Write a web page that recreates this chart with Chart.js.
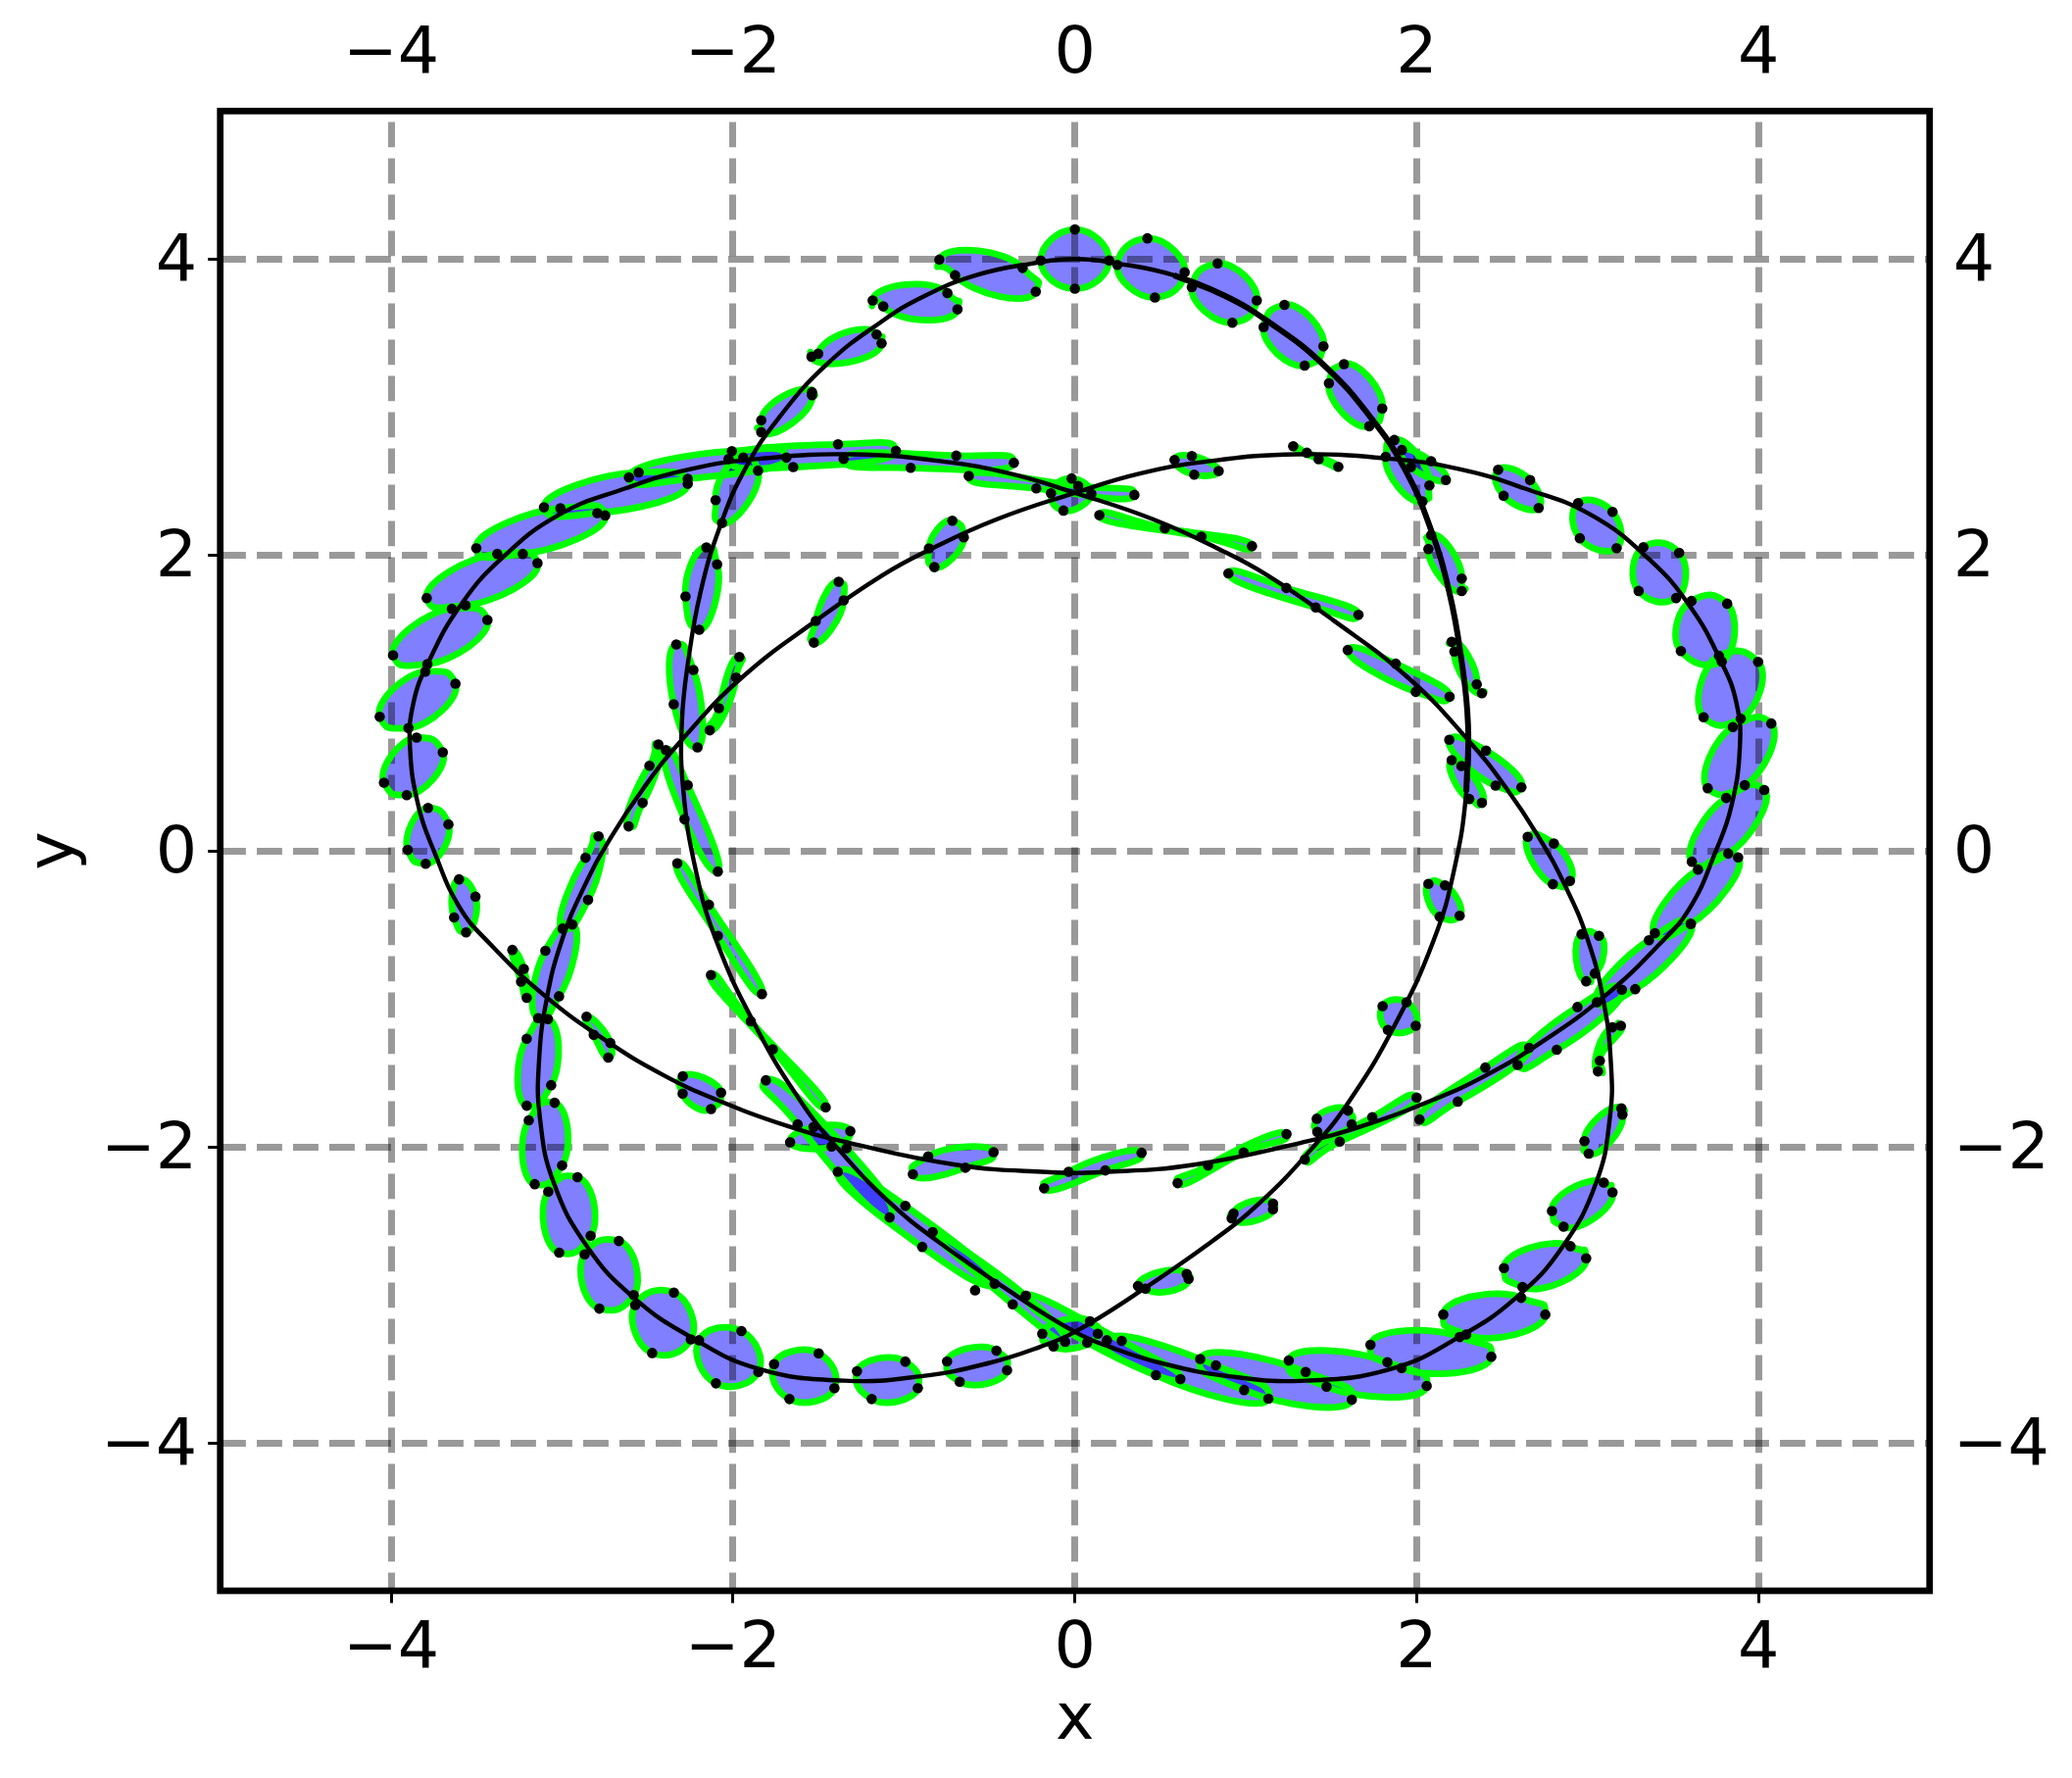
<!DOCTYPE html>
<html><head><meta charset="utf-8">
<style>html,body{margin:0;padding:0;background:#fff}canvas{display:block}</style>
<script src="https://cdn.jsdelivr.net/npm/chart.js@4/dist/chart.umd.js"></script>
</head><body><canvas id="c" width="2114" height="1814"></canvas>
<script>
const tickValues = [-4, -2, 0, 2, 4];
const curveX = [0,.25,.58,.88,1.14,1.45,1.73,1.93,2.08,2.19,2.26,2.30,2.29,2.22,2.10,1.87,1.60,1.38,1.08,.80,.35,0,
-.20,-.50,-.90,-1.35,-1.85,-2.24,-2.58,-2.85,-3.05,-3.13,-3.135,-3.09,-3.0,-2.87,-2.71,-2.52,-2.30,-1.95,-1.51,-1.13,-.86,-.46,0,
.38,.76,1.30,1.85,2.25,2.63,3.02,3.36,3.60,3.78,3.87,3.89,3.84,3.75,3.60,3.42,3.10,2.72,2.40,2.10,1.68,1.33,.70,.17,
-.17,-.70,-1.33,-1.68,-2.10,-2.40,-2.72,-3.10,-3.42,-3.60,-3.75,-3.84,-3.89,-3.87,-3.78,-3.60,-3.36,-3.02,-2.63,-2.25,-1.85,-1.30,-.76,-.38,0,
.46,.86,1.13,1.51,1.95,2.30,2.52,2.71,2.87,3.0,3.09,3.135,3.13,3.05,2.85,2.58,2.24,1.85,1.35,.90,.50,.20,0,
-.35,-.80,-1.08,-1.38,-1.60,-1.87,-2.10,-2.22,-2.29,-2.30,-2.26,-2.19,-2.08,-1.93,-1.73,-1.45,-1.14,-.88,-.58,-.25];
const curveY = [4.0,3.97,3.89,3.75,3.57,3.29,2.93,2.58,2.18,1.75,1.30,.85,.40,-.12,-.60,-1.18,-1.70,-2.02,-2.38,-2.64,-3.0,-3.25,
-3.35,-3.46,-3.55,-3.58,-3.50,-3.29,-3.02,-2.68,-2.24,-1.80,-1.42,-1.0,-.60,-.24,.10,.43,.75,1.17,1.56,1.86,2.03,2.24,2.42,
2.55,2.63,2.68,2.65,2.58,2.45,2.27,1.97,1.65,1.28,1.0,.70,.30,0,-.38,-.63,-.98,-1.30,-1.52,-1.68,-1.86,-1.97,-2.12,-2.17,
-2.17,-2.12,-1.97,-1.86,-1.68,-1.52,-1.30,-.98,-.63,-.38,0,.30,.70,1.0,1.28,1.65,1.97,2.27,2.45,2.58,2.65,2.68,2.63,2.55,2.42,
2.24,2.03,1.86,1.56,1.17,.75,.43,.10,-.24,-.60,-1.0,-1.42,-1.80,-2.24,-2.68,-3.02,-3.29,-3.50,-3.58,-3.55,-3.46,-3.35,-3.25,
-3.0,-2.64,-2.38,-2.02,-1.70,-1.18,-.60,-.12,.40,.85,1.30,1.75,2.18,2.58,2.93,3.29,3.57,3.75,3.89,3.97];
const upperArcBlobs = [
[0,4.2,.2,3.99,0,3.8,-.2,3.99],[.424,4.14,.642,3.91,.468,3.74,.248,3.96],[.835,3.97,1.064,3.72,.921,3.57,.684,3.81],
[1.226,3.69,1.454,3.41,1.344,3.28,1.104,3.54],[1.574,3.29,1.798,2.99,1.722,2.87,1.486,3.16],
[-.793,3.996,-.306,3.94,-.229,3.78,-.701,3.89],[-1.183,3.72,-.746,3.77,-.687,3.66,-1.121,3.68],
[-1.502,3.36,-1.160,3.49,-1.131,3.43,-1.541,3.34],[-1.835,2.91,-1.538,3.10,-1.538,3.08,-1.835,2.83],
[-1.94,2.658,-1.854,2.57,-2.064,2.216,-2.102,2.371],[-2.156,2.051,-2.093,1.936,-2.198,1.495,-2.278,1.72],
[-2.332,1.395,-2.232,1.223,-2.208,.70,-2.347,.991],[-2.393,.682,-2.265,.444,-2.089,-.139,-2.284,.214],
[-2.326,-.084,-2.141,-.364,-1.831,-.967,-2.089,-.574],[-2.129,-.839,-1.768,-1.34,-1.458,-1.733,-1.896,-1.152],
[-1.808,-1.55,-1.336,-2.009,-1.084,-2.477,-1.622,-1.848],[-1.529,-1.865,-1.314,-1.894,-1.424,-1.998,-1.666,-1.969]];
const leftLobeBlobs = [
[-3.603,-.192,-3.507,-.309,-3.562,-.55,-3.632,-.449],[-3.784,.291,-3.665,.179,-3.798,-.087,-3.903,.007],
[-4.042,.461,-3.851,.766,-3.698,.667,-3.909,.377],[-4.067,.907,-3.80,1.212,-3.624,1.13,-3.899,.83],
[-3.989,1.322,-3.645,1.636,-3.437,1.561,-3.788,1.263],[-3.792,1.709,-3.379,2.007,-3.144,1.945,-3.565,1.66],
[-3.502,2.046,-3.01,2.316,-2.748,2.267,-3.23,2.007],[-3.106,2.322,-2.552,2.558,-2.265,2.481,-2.794,2.283],
[-2.609,2.525,-2.007,2.702,-1.688,2.658,-2.265,2.514],[-2.026,2.649,-1.386,2.748,-1.047,2.704,-1.648,2.594],
[-1.353,2.649,-.694,2.671,-.357,2.623,-.961,2.589],[-.621,2.534,.019,2.466,.348,2.406,-.226,2.45],
[-.019,2.517,.096,2.413,-.067,2.30,-.14,2.417],[.143,2.269,.74,2.124,1.036,2.06,.526,2.181],
[.898,1.876,1.237,1.777,1.659,1.596,1.409,1.645],[1.596,1.358,1.877,1.265,2.192,1.042,1.994,1.075],
[2.19,.751,2.405,.678,2.612,.43,2.461,.441],[2.649,.095,2.802,.05,2.896,-.203,2.796,-.225],
[2.964,-.563,3.066,-.574,3.042,-.828,2.991,-.881],[3.144,-1.192,3.194,-1.181,3.071,-1.418,3.060,-1.49],
[2.981,-1.961,3.197,-1.74,3.203,-1.782,3.006,-2.046],[2.791,-2.433,3.094,-2.241,3.145,-2.307,2.859,-2.539],
[2.51,-2.819,2.899,-2.671,2.991,-2.753,2.618,-2.947]];
const rightLobeBlobs = [
[2.204,1.413,2.351,1.126,2.381,1.066,2.22,1.347],[2.084,2.134,2.263,1.84,2.263,1.756,2.068,2.04],
[1.869,2.777,2.074,2.47,2.033,2.362,1.818,2.664],[1.913,2.709,2.084,2.634,2.170,2.506,1.965,2.594],
[2.476,2.576,2.663,2.506,2.713,2.318,2.508,2.40],[2.944,2.351,3.145,2.291,3.169,2.046,2.954,2.113],
[3.326,2.053,3.535,2.015,3.517,1.709,3.298,1.757],[3.607,1.689,3.816,1.671,3.784,1.28,3.545,1.351],
[3.768,1.318,3.997,1.278,3.895,.894,3.678,.903],[3.849,.837,4.074,.861,3.919,.444,3.702,.424],
[3.81,.358,4.033,.412,3.822,-.018,3.609,-.073],[3.645,-.126,3.880,-.044,3.603,-.492,3.393,-.556],
[3.358,-.603,3.603,-.492,3.278,-.934,3.054,-1.022],[2.940,-1.055,3.2,-.938,2.819,-1.344,2.59,-1.446],
[2.401,-1.464,2.657,-1.331,2.240,-1.694,2.016,-1.815],[1.74,-1.799,1.999,-1.667,1.549,-1.965,1.345,-2.086],
[.987,-2.038,1.238,-1.914,.779,-2.126,.601,-2.245],[.178,-2.159,.39,-2.04,-.037,-2.168,-.18,-2.28],
[-.641,-2.141,-.476,-2.036,-.858,-2.064,-.948,-2.185],[-2.294,-1.523,-2.07,-1.634,-2.129,-1.744,-2.295,-1.64],
[-2.857,-1.12,-2.718,-1.298,-2.73,-1.397,-2.815,-1.243],[-3.291,-.669,-3.224,-.797,-3.207,-.993,-3.24,-.883]];
const bottomBlobs = [
[2.204,.614,2.261,.574,2.381,.325,2.307,.351],[2.068,-.223,2.165,-.232,2.251,-.438,2.134,-.444],
[1.8,-1.049,1.94,-1.022,1.994,-1.181,1.831,-1.21],[1.415,-1.81,1.598,-1.755,1.619,-1.848,1.418,-1.899],
[.928,-2.45,1.159,-2.384,1.159,-2.421,.917,-2.483],[.369,-2.94,.654,-2.859,.665,-2.892,.413,-2.958],
[-.191,-3.263,.088,-3.179,.134,-3.263,-.125,-3.349],[-.748,-3.45,-.459,-3.377,-.397,-3.51,-.674,-3.587],
[-1.275,-3.517,-.992,-3.451,-.919,-3.631,-1.189,-3.704],[-1.76,-3.468,-1.499,-3.395,-1.407,-3.631,-1.67,-3.704],
[-2.199,-3.307,-1.951,-3.245,-1.852,-3.521,-2.1,-3.598],[-2.572,-3.069,-2.346,-2.985,-2.247,-3.301,-2.473,-3.393],
[-2.868,-2.726,-2.668,-2.636,-2.581,-3.002,-2.782,-3.093],[-3.081,-2.302,-2.91,-2.205,-2.833,-2.601,-3.017,-2.715],
[-3.195,-1.821,-3.044,-1.702,-3.0,-2.126,-3.16,-2.252],[-3.207,-1.269,-3.083,-1.137,-3.064,-1.583,-3.207,-1.722],
[-3.098,-.675,-2.94,-.497,-3.018,-.982,-3.14,-1.13],[-2.863,-.046,-2.787,.099,-2.848,-.331,-2.997,-.525],
[-2.437,.72,-2.529,.325,-2.611,.166,-2.489,.576],[-1.963,1.311,-1.982,1.172,-2.136,.815,-2.083,.965],
[-1.382,1.819,-1.353,1.693,-1.527,1.408,-1.516,1.554],[-.717,2.232,-.65,2.119,-.822,1.918,-.854,2.044],
[.583,2.642,.684,2.669,.841,2.567,.698,2.543],[1.277,2.735,1.357,2.691,1.541,2.596,1.426,2.647]];
const lowerBandBlobs = [
[-1.387,-2.168,-.992,-2.398,-.47,-2.925,-.893,-2.676],[-.832,-2.576,-.287,-3.007,-.057,-3.318,-.364,-3.064],
[-.287,-3.007,.274,-3.311,.617,-3.57,.072,-3.323],
[.187,-3.307,.825,-3.477,1.132,-3.702,.474,-3.543],[.733,-3.433,1.35,-3.521,1.62,-3.709,.99,-3.643],
[1.251,-3.444,1.828,-3.455,2.058,-3.616,1.472,-3.621],[1.729,-3.338,2.251,-3.285,2.436,-3.418,1.911,-3.495],
[2.155,-3.133,2.611,-3.02,2.752,-3.133,2.289,-3.268]];
const looseDotX = [-.584];
const looseDotY = [-2.969];
const allBlobs = [...upperArcBlobs, ...leftLobeBlobs, ...rightLobeBlobs, ...bottomBlobs, ...lowerBandBlobs];
const toPts = r => [0,2,4,6].map(i => ({x:r[i], y:r[i+1]}));
const curvePts = curveX.map((x,i)=>({x, y:curveY[i]}));
const FONT = {family:"'DejaVu Sans'", size:66.67};
const datasets = allBlobs.map(r => ({type:'line', data:toPts(r), closed:true, roundHandles:true, tension:.5, capBezierPoints:false, borderColor:'#00ff00', borderWidth:6.8, backgroundColor:'rgba(0,0,255,.5)', fill:'shape', pointRadius:0}));
datasets.push({type:'line', data:curvePts, closed:true, tension:.45, capBezierPoints:false, borderColor:'#000', borderWidth:4.4, fill:false, pointRadius:0});
datasets.push({type:'line', data:curvePts.slice(2,13), tension:.45, capBezierPoints:false, borderColor:'#000', borderWidth:6, fill:false, pointRadius:0});
datasets.push({type:'line', data:[...allBlobs.flatMap(toPts), ...looseDotX.map((x,i)=>({x, y:looseDotY[i]}))], showLine:false, pointRadius:5.3, pointBackgroundColor:'#000', pointBorderWidth:0, fill:false});
const size = {x:191, x2:113.3, y:224.7, y2:145.3};
const setTicks = s => { s.ticks = tickValues.map(v => ({value:v})); };
const fmt = v => String(v).replace('-', '\u2212');
const axis = (id, pos, extra) => ({
  type:'linear', position:pos, min:-5, max:5, afterBuildTicks:setTicks,
  afterFit:s => { if (s.isHorizontal()) s.height = size[id]; else s.width = size[id]; },
  border:{display:false},
  ticks:{font:FONT, color:'#000', maxRotation:0, minRotation:0, autoSkip:false, callback:fmt, padding:extra.pad, align:'center', labelOffset:extra.off||0},
  grid: extra.grid, title: extra.title || {display:false}
});
const gridOf = () => ({z:1, color:'rgba(0,0,0,.4)', lineWidth:7, drawTicks:true, tickLength:12.5, tickWidth:3, tickColor:'#000'});
const xScale = axis('x','bottom',{pad:8,grid:gridOf(),title:{display:true,text:'x',font:FONT,color:'#000',padding:{top:0,bottom:17}}});
xScale.border = {display:false, dash:[25.9,11.1], dashOffset:25.9};
const yScale = axis('y','left',{pad:11,off:4.5,grid:gridOf(),title:{display:true,text:'y',font:FONT,color:'#000',padding:{top:17,bottom:0}}});
yScale.border = {display:false, dash:[25.9,11.1], dashOffset:0};
const lateDraw = {
  id:'lateDraw',
  afterDatasetUpdate(chart,args){
    const ds=chart.data.datasets[args.index], line=args.meta.dataset;
    if(!ds.closed) return;
    line._loop=true; line._fullLoop=true;
    if(ds.roundHandles){
      line.updateControlPoints(chart.chartArea,'x');
      const p=line.points, n=p.length;
      const cx=p.reduce((s,q)=>s+q.x,0)/n, cy=p.reduce((s,q)=>s+q.y,0)/n;
      const rad=q=>Math.hypot(q.x-cx,q.y-cy);
      p.forEach((q,i)=>{
        const a=p[(i+n-1)%n], b=p[(i+1)%n];
        const dx=b.x-a.x, dy=b.y-a.y, d=Math.hypot(dx,dy)||1, len=d/4;
        let tx=-(q.y-cy), ty=q.x-cx; const tl=Math.hypot(tx,ty)||1; tx/=tl; ty/=tl;
        if(tx*dx+ty*dy<0){tx=-tx;ty=-ty;}
        const ratio=rad(q)/((rad(a)+rad(b))/2||1);
        const w=Math.min(1,Math.max(0,(ratio-.3)/.8));
        let ux=w*tx+(1-w)*dx/d, uy=w*ty+(1-w)*dy/d; const ul=Math.hypot(ux,uy)||1; ux/=ul; uy/=ul;
        q.cp1x=q.x-ux*len; q.cp1y=q.y-uy*len; q.cp2x=q.x+ux*len; q.cp2y=q.y+uy*len;
      });
    }
  },
  beforeDatasetDraw(){ return false; },
  afterDraw(chart){
    chart.data.datasets.forEach((d,i)=>chart.getDatasetMeta(i).controller.draw());
    const a=chart.chartArea, c=chart.ctx;
    c.save(); c.strokeStyle='#000'; c.lineWidth=6.7; c.lineJoin='miter';
    c.strokeRect(a.left,a.top,a.right-a.left,a.bottom-a.top); c.restore();
  }
};
new Chart(document.getElementById('c'),{
  data:{datasets},
  plugins:[lateDraw],
  options:{responsive:false, animation:false, events:[], layout:{padding:0},
    plugins:{legend:{display:false},tooltip:{enabled:false},title:{display:false}},
    scales:{x:xScale, y:yScale,
      x2:axis('x2','top',{pad:9,grid:{display:false}}),
      y2:axis('y2','right',{pad:16,off:4.5,grid:{display:false}})}
  }
});
</script></body></html>
